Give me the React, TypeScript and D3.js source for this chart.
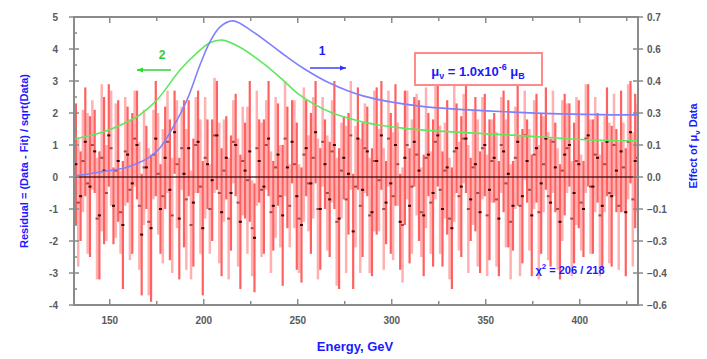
import React from "react";
import * as d3 from "d3";

// Energy binning of the residual points (GeV)
const binStart = 132;
const binWidth = 2.5;

// Normalised residuals (Data - Fit) / sqrt(Data), first data set
const residuals = [
  0.4, -0.6, 1.1, -0.3, 0.8, -1.2, 0.2, 1.3, -0.9, 0.5,
  -1.5, 0.7, -0.2, 1.0, -1.8, 0.3, -1.6, 1.2, -1.0, 0.6,
  -0.4, 1.4, -1.3, 0.1, 0.9, -0.8, 1.1, -1.6, 0.4, -0.1,
  1.3, -1.1, 0.6, -0.5, 1.0, -1.4, 0.2, 0.8, -1.9, 0.5,
  -0.3, 1.2, -0.9, 0.7, -1.2, 0.3, 1.1, -0.6, -1.5, 0.9,
  -0.2, 1.4, -1.0, 0.4, -0.7, 1.0, -1.3, 0.6, 0.1, -1.7,
  1.2, -0.4, 0.8, -1.1, 0.5, 1.3, -0.8, -0.2, 1.0, -1.4,
  0.6, -0.9, 1.1, 0.2, -1.2, 0.7, -0.5, 1.3, -1.0, 0.3,
  -1.6, 0.9, -0.3, 1.2, -0.7, 0.4, -1.1, 1.0, -0.4, 0.6,
  -1.3, 0.8, 0.1, -0.9, 1.1, -0.6, 0.5, -1.2, 0.9, -0.2,
  1.2, -0.8, 0.3, -1.4, 0.7, 1.0, -0.5, 0.4, -1.0, 1.3,
  -0.3, 0.6, -0.9, 1.1, -0.6, 0.2, 0.8, -1.1, 1.4, 0.5,
];
const errors = [
  1.9, 1.4, 1.7, 2.2, 1.3, 2.0, 2.3, 1.6, 1.2, 1.9,
  2.0, 1.5, 2.2, 1.7, 1.9, 1.3, 2.3, 1.8, 1.4, 1.6,
  2.2, 1.3, 1.9, 2.3, 1.5, 2.0, 1.6, 2.1, 1.4, 1.9,
  1.7, 2.0, 1.3, 1.8, 1.6, 2.1, 1.5, 2.2, 1.7, 1.3,
  2.1, 1.8, 1.4, 1.6, 2.2, 1.9, 1.3, 2.3, 1.8, 1.5,
  2.2, 1.6, 1.9, 1.4, 1.8, 2.0, 2.2, 1.3, 1.9, 1.8,
  1.6, 2.1, 1.4, 2.0, 2.3, 1.7, 1.3, 2.2, 1.9, 1.5,
  2.1, 1.8, 1.4, 2.2, 1.9, 1.3, 2.3, 1.6, 1.8, 2.1,
  1.9, 1.4, 2.2, 1.7, 1.3, 2.1, 1.9, 1.6, 2.2, 1.4,
  1.8, 1.9, 2.3, 1.4, 2.0, 2.1, 1.3, 1.9, 1.7, 2.2,
  1.6, 2.0, 1.4, 1.8, 1.9, 1.3, 2.2, 2.0, 1.5, 1.6,
  2.1, 1.4, 2.0, 1.7, 2.2, 1.3, 1.9, 2.0, 1.6, 2.1,
];

// Second data set, bins shifted by half a bin
const residuals2 = [
  -0.8, 0.5, -0.2, 1.0, -1.3, 0.6, -0.5, 0.9, 0.2, -1.1,
  0.8, -0.4, 1.2, -0.9, 0.3, -1.4, 0.7, 0.1, -0.6, 1.1,
  -1.2, 0.4, 0.9, -0.7, -1.5, 1.0, -0.3, 0.6, -1.0, 1.3,
  -0.5, 0.2, -1.3, 1.1, -0.8, 0.5, -0.1, -1.6, 0.9, -0.4,
  1.0, -1.1, 0.3, -0.6, 1.2, -0.9, 0.4, -1.3, 0.7, -0.2,
  0.6, -1.0, 1.1, -0.5, 0.8, -1.4, 0.2, -0.7, 1.3, -0.3,
  -0.9, 0.9, -1.2, 0.5, -0.1, -1.0, 1.2, -0.6, 0.4, -1.5,
  1.0, -0.3, 0.7, -1.1, 0.6, -0.8, 1.1, -0.4, 0.2, -1.3,
  0.8, -0.6, 1.2, -1.0, 0.3, -0.5, 0.9, -1.2, 0.5, -0.7,
  1.0, -0.2, -1.4, 0.6, -0.9, 1.3, -0.4, 0.7, -1.1, 0.4,
  -0.6, 1.1, -1.0, 0.2, 0.9, -1.3, 0.5, -0.8, 1.2, -0.3,
  0.7, -1.2, 0.4, -0.5, 1.0, -0.9, 0.3, 1.1, -0.7, 0.6,
];
const errors2 = [
  2.0, 1.6, 2.2, 1.4, 1.9, 2.3, 1.5, 1.8, 2.1, 1.3,
  1.7, 2.2, 1.5, 2.0, 1.8, 2.3, 1.4, 1.9, 2.1, 1.6,
  1.8, 2.0, 1.3, 2.2, 1.7, 1.5, 2.1, 1.9, 1.4, 1.8,
  2.2, 1.6, 1.9, 1.3, 2.0, 1.7, 2.3, 1.5, 1.8, 2.1,
  1.4, 1.9, 2.2, 1.6, 1.8, 1.3, 2.0, 1.7, 2.1, 1.5,
  1.9, 2.2, 1.4, 1.8, 1.6, 2.0, 1.5, 2.3, 1.7, 1.9,
  2.1, 1.4, 1.8, 2.2, 1.6, 1.9, 1.5, 2.0, 1.3, 1.8,
  1.7, 2.1, 1.9, 1.4, 2.2, 1.6, 1.8, 2.0, 1.5, 1.9,
  2.2, 1.7, 1.4, 2.0, 1.8, 2.3, 1.6, 1.9, 1.3, 2.1,
  1.5, 2.0, 1.8, 1.6, 2.2, 1.4, 1.9, 1.7, 2.1, 1.5,
  2.0, 1.6, 1.9, 2.2, 1.4, 1.8, 2.0, 1.5, 1.7, 2.1,
  1.8, 1.9, 1.5, 2.2, 1.6, 2.0, 1.4, 1.8, 2.1, 1.7,
];

// Curve 1: effect of the magnetic moment (right axis)
const curve1Energy = [131, 144.8, 159.2, 171.4, 176.7, 183.7, 191.1, 198, 203.3, 208.7, 215.6, 226.2, 240.6, 252.8, 267.2, 284.7, 315, 364.5, 417.7, 431];
const curve1Effect = [0.004, 0.022, 0.043, 0.088, 0.127, 0.218, 0.337, 0.49, 0.591, 0.657, 0.683, 0.635, 0.548, 0.477, 0.41, 0.355, 0.31, 0.284, 0.272, 0.272];

// Curve 2 (right axis)
const curve2Energy = [131.5, 146.4, 159.2, 166, 175.1, 187.4, 196.4, 203.3, 209.7, 219.3, 231.5, 242.2, 251.2, 267.2, 284.7, 306, 341.6, 364.5, 405.5, 431];
const curve2Effect = [0.167, 0.197, 0.241, 0.272, 0.337, 0.468, 0.543, 0.587, 0.599, 0.568, 0.498, 0.424, 0.358, 0.284, 0.241, 0.214, 0.193, 0.183, 0.162, 0.158];

// Axes
const xTicksMajor = [150, 200, 250, 300, 350, 400];
const xTicksMinor = [175, 225, 275, 325, 375, 425];
const leftTicks = [5, 4, 3, 2, 1, 0, -1, -2, -3, -4];
const rightTicks = [0.7, 0.56, 0.42, 0.28, 0.14, 0, -0.14, -0.28, -0.42, -0.56];

const W = 707;
const H = 359;
const L = 74, R = 638, T = 17, B = 305;

const x = d3.scaleLinear().domain([131, 431]).range([L, R]);
const yL = d3.scaleLinear().domain([-4, 5]).range([B, T]);
const yR = d3.scaleLinear().domain([-0.56, 0.7]).range([B, T]);

const axisColor = "#8a8a8a";
const tickText = "#5a5a5a";
const blue = "#1a1aff";
const font = "'Liberation Sans', Arial, sans-serif";

export default function App() {
  const set1 = residuals.map((r, i) => ({ e: binStart + i * binWidth, r, err: errors[i] }));
  const set2 = residuals2.map((r, i) => ({ e: binStart + (i + 0.5) * binWidth, r, err: errors2[i] }));

  const line = d3.line<[number, number]>()
    .x((d) => x(d[0]))
    .y((d) => yR(d[1]))
    .curve(d3.curveCatmullRom.alpha(0.5));

  const c1 = line(curve1Energy.map((e, i) => [e, curve1Effect[i]] as [number, number])) || "";
  const c2 = line(curve2Energy.map((e, i) => [e, curve2Effect[i]] as [number, number])) || "";

  const fmtR = d3.format(".1f");

  return (
    <svg width={W} height={H} style={{ position: "absolute", left: 0, top: 0, background: "#fff" }} fontFamily={font}>
      <defs>
        <clipPath id="plot">
          <rect x={L} y={T} width={R - L} height={B - T} />
        </clipPath>
      </defs>

      <g clipPath="url(#plot)">
        {/* error bars, second set underneath */}
        {set2.map((p, i) => (
          <line key={"eb2" + i} x1={x(p.e)} x2={x(p.e)} y1={yL(p.r + p.err)} y2={yL(p.r - p.err)}
            stroke="#ff8f8f" strokeOpacity={0.7} strokeWidth={2.5} />
        ))}
        {set1.map((p, i) => (
          <line key={"eb1" + i} x1={x(p.e)} x2={x(p.e)} y1={yL(p.r + p.err)} y2={yL(p.r - p.err)}
            stroke="#ff1e1e" strokeOpacity={0.7} strokeWidth={2.2} />
        ))}
        {set2.map((p, i) => (
          <rect key={"pt2" + i} x={x(p.e) - 1.5} y={yL(p.r) - 1} width={3} height={2} fill="#7a2020" fillOpacity={0.7} />
        ))}
        {set1.map((p, i) => (
          <rect key={"pt1" + i} x={x(p.e) - 1.5} y={yL(p.r) - 1} width={3} height={2} fill="#3a0000" />
        ))}
        {/* zero line */}
        <line x1={L} x2={R} y1={yL(0)} y2={yL(0)} stroke="#3a0a0a" strokeOpacity={0.85} strokeWidth={1.5} />
        {/* effect curves */}
        <path d={c2} fill="none" stroke="#5fe85f" strokeWidth={1.6} />
        <path d={c1} fill="none" stroke="#8080ff" strokeWidth={1.6} />
      </g>

      {/* frame */}
      <rect x={L} y={T} width={R - L} height={B - T} fill="none" stroke={axisColor} strokeWidth={2} />

      {/* x ticks */}
      {xTicksMajor.map((t) => (
        <g key={"xt" + t}>
          <line x1={x(t)} x2={x(t)} y1={B} y2={B - 6} stroke={axisColor} strokeWidth={1.5} />
          <line x1={x(t)} x2={x(t)} y1={T} y2={T + 6} stroke={axisColor} strokeWidth={1.5} />
          <text x={x(t)} y={B + 19} textAnchor="middle" fontSize={10} fontWeight="bold" fill={tickText}>{t}</text>
        </g>
      ))}
      {xTicksMinor.map((t) => (
        <g key={"xm" + t}>
          <line x1={x(t)} x2={x(t)} y1={B} y2={B - 4} stroke={axisColor} strokeWidth={1.5} />
          <line x1={x(t)} x2={x(t)} y1={T} y2={T + 4} stroke={axisColor} strokeWidth={1.5} />
        </g>
      ))}

      {/* left ticks */}
      {leftTicks.map((t) => (
        <g key={"lt" + t}>
          <line x1={L - 5} x2={L + 5} y1={yL(t)} y2={yL(t)} stroke={axisColor} strokeWidth={1.5} />
          <text x={L - 16} y={yL(t) + 4} textAnchor="end" fontSize={10} fontWeight="bold" fill={tickText}>{t}</text>
        </g>
      ))}
      {leftTicks.slice(1).map((t) => (
        <line key={"lm" + t} x1={L} x2={L + 3} y1={yL(t + 0.5)} y2={yL(t + 0.5)} stroke={axisColor} strokeWidth={1.5} />
      ))}

      {/* right ticks */}
      {rightTicks.map((t) => (
        <g key={"rt" + t}>
          <line x1={R - 5} x2={R + 5} y1={yR(t)} y2={yR(t)} stroke={axisColor} strokeWidth={1.5} />
          <text x={R + 9} y={yR(t) + 4} textAnchor="start" fontSize={10} fontWeight="bold" fill={tickText}>{fmtR(t) === "-0.0" ? "0.0" : fmtR(t)}</text>
        </g>
      ))}

      {/* axis titles */}
      <text x={355} y={351} textAnchor="middle" fontSize={13} fontWeight="bold" fill={blue}>Energy, GeV</text>
      <text transform={`translate(28,${(T + B) / 2}) rotate(-90)`} textAnchor="middle" fontSize={11} fontWeight="bold" fill={blue}>
        Residual = (Data - Fit) / sqrt(Data)
      </text>
      <text transform={`translate(697,${(T + B) / 2 - 15}) rotate(-90)`} textAnchor="middle" fontSize={11} fontWeight="bold" fill={blue}>
        Effect of μ<tspan fontSize={8} dy={3}>ν</tspan><tspan dy={-3}> Data</tspan>
      </text>

      {/* curve labels */}
      <text x={322} y={55} textAnchor="middle" fontSize={12} fontWeight="bold" fill={blue}>1</text>
      <line x1={310} x2={346} y1={68} y2={68} stroke="#7070ff" strokeWidth={2} />
      <path d="M346,68 l-6,-2.5 l0,5 z" fill="#3030ff" />
      <text x={162} y={59} textAnchor="middle" fontSize={12} fontWeight="bold" fill="#33cc33">2</text>
      <line x1={137} x2={171} y1={70} y2={70} stroke="#66dd66" strokeWidth={2} />
      <path d="M137,70 l6,-2.5 l0,5 z" fill="#22dd22" />

      {/* legend box */}
      <rect x={415} y={53} width={127} height={32} fill="#fff" stroke="#ff8a8a" strokeWidth={2} />
      <text x={478} y={76} textAnchor="middle" fontSize={13} fontWeight="bold" fill={blue}>
        μ<tspan fontSize={9} dy={3}>ν</tspan><tspan dy={-3}> = 1.0x10</tspan><tspan fontSize={9} dy={-6}>-6</tspan><tspan dy={6}> μ</tspan><tspan fontSize={9} dy={3}>B</tspan>
      </text>

      {/* chi-square */}
      <text x={570} y={274} textAnchor="middle" fontSize={11} fontWeight="bold" fill={blue}>
        χ<tspan fontSize={8} dy={-5}>2</tspan><tspan dy={5}> = 206 / 218</tspan>
      </text>
    </svg>
  );
}
